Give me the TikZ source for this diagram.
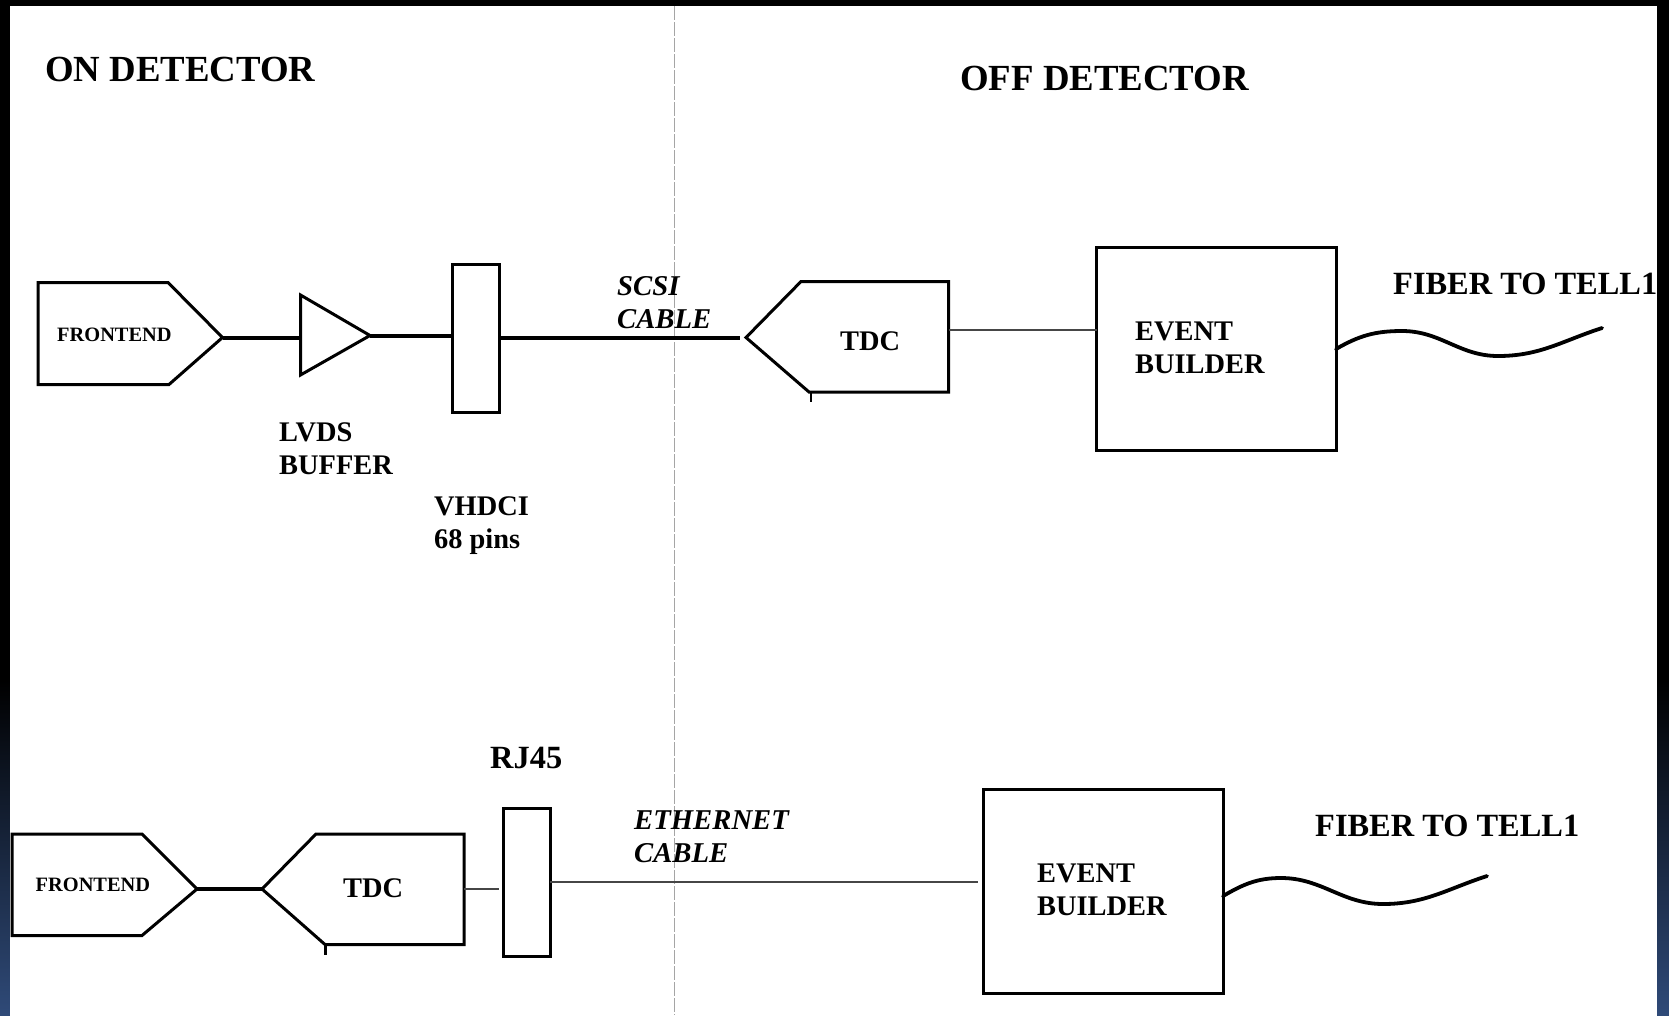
\documentclass[tikz,border=0pt]{standalone}
\usepackage{fontspec}
\setmainfont{Liberation Serif}
\definecolor{bb}{RGB}{47, 74, 120}
\definecolor{gg}{RGB}{70, 70, 70}
\definecolor{dd}{RGB}{165, 165, 165}
\tikzset{
  box/.style={rectangle, inner sep=0pt, draw=black, fill=white, line width=3pt},
  outline/.style={line width=3pt, color=black, line join=miter},
  wire/.style={line width=4pt, color=black},
  thinwire/.style={line width=2.4pt, color=gg},
  fiber/.style={line width=3.8pt, color=black, line cap=round},
  bigtext/.style={inner sep=0pt, anchor=west, font=\fontsize{36.8}{40}\selectfont\bfseries},
  fibertext/.style={inner sep=0pt, anchor=west, font=\fontsize{32.4}{36}\selectfont\bfseries},
  smalltext/.style={inner sep=0pt, anchor=west, font=\fontsize{20.4}{24}\selectfont\bfseries},
  midtext/.style={inner sep=0pt, anchor=west, align=left, font=\fontsize{28.4}{33}\selectfont\bfseries},
  cabletext/.style={inner sep=0pt, anchor=west, align=left, font=\fontsize{28.7}{33}\selectfont\bfseries\itshape},
}

\begin{document}
\begin{tikzpicture}
\useasboundingbox (0pt, 0pt) rectangle (1669pt, -1015pt);
% screen frame
\fill [black] (0pt, 0pt) rectangle (1669pt, -1015pt);
\shade [top color=black, bottom color=bb] (0pt, -680pt) rectangle (1669pt, -1015pt);
\fill [white] (10pt, -6pt) rectangle (1657pt, -1018pt);
% divider
\coordinate (div1) at (674pt, -6pt);
\coordinate (div2) at (674pt, -1015pt);
\draw [line width=1pt, color=dd, dash pattern=on 14pt off 2pt] (div1) to (div2);

% upper chain
\coordinate (fe1a) at (38pt, -282.5pt);
\coordinate (fe1b) at (168pt, -282.5pt);
\coordinate (fe1tip) at (222.5pt, -337.5pt);
\coordinate (fe1c) at (169pt, -384.5pt);
\coordinate (fe1d) at (38pt, -384.5pt);
\draw [outline] (fe1a) -- (fe1b) -- (fe1tip) -- (fe1c) -- (fe1d) -- cycle;
\coordinate (buf1a) at (300.5pt, -295pt);
\coordinate (buf1tip) at (370pt, -335.5pt);
\coordinate (buf1b) at (300.5pt, -375pt);
\draw [outline] (buf1a) -- (buf1tip) -- (buf1b) -- cycle;
\coordinate (buf1in) at (300.5pt, -337.5pt);
\node (vhdci1) [box, minimum width=46.8pt, minimum height=148pt] at (476pt, -338pt) {};
\coordinate (vhdci1in) at (452.6pt, -335.5pt);
\coordinate (vhdci1out) at (499.4pt, -338pt);
\coordinate (tdc1tip) at (746pt, -337.5pt);
\coordinate (tdc1a) at (801pt, -281.5pt);
\coordinate (tdc1b) at (948.5pt, -281.5pt);
\coordinate (tdc1c) at (948.5pt, -392pt);
\coordinate (tdc1d) at (809pt, -392pt);
\coordinate (tdc1e) at (811pt, -402pt);
\coordinate (tdc1f) at (811pt, -392pt);
\draw [outline] (tdc1tip) -- (tdc1a) -- (tdc1b) -- (tdc1c) -- (tdc1d) -- cycle;
\draw [line width=2.4pt, color=black] (tdc1f) to (tdc1e);
\coordinate (cable1) at (740pt, -338pt);
\coordinate (tdc1out) at (948.5pt, -330pt);
\node (eb1) [box, minimum width=239.5pt, minimum height=203pt] at (1216.25pt, -348.5pt) {};
\coordinate (eb1in) at (1096.5pt, -330pt);
\coordinate (wave1a) at (1336pt, -349pt);
\coordinate (wave1b) at (1402pt, -331pt);
\coordinate (wave1c) at (1498pt, -356pt);
\coordinate (wave1d) at (1602pt, -328pt);
\draw [wire] (fe1tip) to (buf1in);
\draw [wire] (buf1tip) to (vhdci1in);
\draw [wire] (vhdci1out) to (cable1);
\draw [thinwire] (tdc1out) to (eb1in);
\draw [fiber] (wave1a) to [out=30, in=180] (wave1b) to [out=0, in=180] (wave1c) to [out=0, in=198] (wave1d);

% lower chain
\coordinate (fe2a) at (12pt, -834pt);
\coordinate (fe2b) at (142pt, -834pt);
\coordinate (fe2tip) at (197pt, -889pt);
\coordinate (fe2c) at (142pt, -935.5pt);
\coordinate (fe2d) at (12pt, -935.5pt);
\draw [outline] (fe2a) -- (fe2b) -- (fe2tip) -- (fe2c) -- (fe2d) -- cycle;
\coordinate (tdc2tip) at (262pt, -889pt);
\coordinate (tdc2a) at (316pt, -834pt);
\coordinate (tdc2b) at (464pt, -834pt);
\coordinate (tdc2c) at (464pt, -944.5pt);
\coordinate (tdc2d) at (325pt, -944.5pt);
\coordinate (tdc2e) at (325.5pt, -955pt);
\coordinate (tdc2f) at (325.5pt, -944.5pt);
\draw [outline] (tdc2tip) -- (tdc2a) -- (tdc2b) -- (tdc2c) -- (tdc2d) -- cycle;
\draw [line width=2.4pt, color=black] (tdc2f) to (tdc2e);
\node (rj1) [box, minimum width=46.5pt, minimum height=148pt] at (526.75pt, -882pt) {};
\coordinate (tdc2out) at (464pt, -889pt);
\coordinate (rj1in) at (499pt, -889pt);
\coordinate (rj1out) at (550pt, -882pt);
\node (eb2) [box, minimum width=239.5pt, minimum height=204pt] at (1103.25pt, -891pt) {};
\coordinate (eb2in) at (978pt, -882pt);
\coordinate (wave2a) at (1223pt, -896pt);
\coordinate (wave2b) at (1281pt, -878pt);
\coordinate (wave2c) at (1383pt, -904pt);
\coordinate (wave2d) at (1487pt, -876pt);
\draw [wire] (fe2tip) to (tdc2tip);
\draw [thinwire] (tdc2out) to (rj1in);
\draw [thinwire] (rj1out) to (eb2in);
\draw [fiber] (wave2a) to [out=30, in=180] (wave2b) to [out=0, in=180] (wave2c) to [out=0, in=198] (wave2d);

% labels
\node (on) [bigtext] at (45pt, -69pt) {ON DETECTOR};
\node (off) [bigtext] at (960pt, -78.5pt) {OFF DETECTOR};
\node (fe1) [smalltext] at (57pt, -335pt) {FRONTEND};
\node (fe2) [smalltext] at (35.5pt, -884.5pt) {FRONTEND};
\node (lvds) [midtext] at (279pt, -449pt) {LVDS\\BUFFER};
\node (pins) [midtext] at (434pt, -525.5pt) {VHDCI\\68 pins};
\node (scsi) [cabletext] at (617pt, -302.5pt) {SCSI\\CABLE};
\node (eth) [cabletext] at (634pt, -837pt) {ETHERNET\\CABLE};
\node (tdc1) [midtext] at (840pt, -341.5pt) {TDC};
\node (tdc2) [midtext] at (343pt, -888.5pt) {TDC};
\node (ev1) [midtext] at (1135pt, -347.5pt) {EVENT\\BUILDER};
\node (ev2) [midtext] at (1037pt, -889.5pt) {EVENT\\BUILDER};
\node (rj) [fibertext] at (490pt, -757.5pt) {RJ45};
\node (fib1) [fibertext] at (1393pt, -283.5pt) {FIBER TO TELL1};
\node (fib2) [fibertext] at (1315pt, -826pt) {FIBER TO TELL1};
\end{tikzpicture}
\end{document}
